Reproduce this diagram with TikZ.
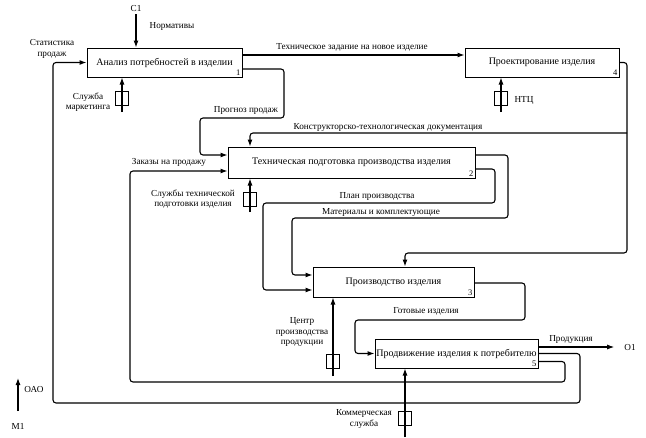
\documentclass[tikz,border=0pt]{standalone}
\usepackage{fontspec}
\setmainfont{Liberation Serif}
\usetikzlibrary{arrows.meta}

\begin{document}
\begin{tikzpicture}
    \tikzset{x=1pt, y=-1pt, >={Latex[length=7pt,width=5pt]}}
    \tikzstyle{func}=[rectangle, draw, line width=1pt, minimum height=29pt, inner sep=0pt, font=\fontsize{10}{11}\selectfont]
    \tikzstyle{num}=[anchor=south east, inner sep=2pt, font=\fontsize{8.5}{9}\selectfont]
    \tikzstyle{tunnel}=[rectangle, draw, line width=0.8pt, minimum width=13pt, minimum height=14pt, inner sep=0pt]
    \tikzstyle{lbl}=[inner sep=0pt, align=center, font=\fontsize{9.2}{10.5}\selectfont]
    \tikzstyle{flow}=[draw, ->, line width=1.1pt, rounded corners=3pt]

    \useasboundingbox (0,0) rectangle (646,437);

    % functions
    \draw (164.5, 62.5)  node[func, minimum width=155pt] (f1) {Анализ потребностей в изделии};
    \draw (542.0, 62.5)  node[func, minimum width=154pt] (f4) {Проектирование изделия};
    \draw (351.5, 162.5) node[func, minimum width=247pt, minimum height=31pt] (f2) {Техническая подготовка производства изделия};
    \draw (393.5, 282.0) node[func, minimum width=161pt, minimum height=30pt] (f3) {Производство изделия};
    \draw (456.5, 353.5) node[func, minimum width=163pt] (f5) {Продвижение изделия к потребителю};

    \draw (f1.south east) node[num] (n1) {1};
    \draw (f4.south east) node[num] (n4) {4};
    \draw (f2.south east) node[num] (n2) {2};
    \draw (f3.south east) node[num] (n3) {3};
    \draw (f5.south east) node[num] (n5) {5};

    % boundary arrows
    \draw (136, 8)   node[lbl] (C1)  {C1};
    \draw (630, 347) node[lbl] (O1)  {O1};
    \draw (18, 426)  node[lbl] (M1)  {M1};
    \coordinate (m0)  at (18, 411);
    \coordinate (oao) at (18, 378);
    \draw (34, 389)  node[lbl] (OAO) {ОАО};

    \draw [flow] ([yshift=-3pt]C1.south) -- (C1 |- f1.north);
    \draw [flow] (m0) -- (oao);
    \draw [flow] ([yshift=6.5pt]f5.east) -- ([xshift=-10pt]O1.west);

    % mechanisms
    \draw (122, 98)  node[tunnel] (t1) {};
    \draw (501, 98)  node[tunnel] (t4) {};
    \draw (250, 199) node[tunnel] (t2) {};
    \draw (333, 361) node[tunnel] (t3) {};
    \draw (405, 418) node[tunnel] (t5) {};
    \coordinate (m1) at (122, 112);
    \coordinate (m4) at (501, 112);
    \coordinate (m2) at (250, 212);
    \coordinate (m3) at (333, 376);
    \coordinate (m5) at (405, 437);
    \draw [flow] (m1) -- (m1 |- f1.south);
    \draw [flow] (m4) -- (m4 |- f4.south);
    \draw [flow] (m2) -- (m2 |- f2.south);
    \draw [flow] (m3) -- (m3 |- f3.south);
    \draw [flow] (m5) -- (m5 |- f5.south);

    % inner arrows
    \coordinate (ktd) at (627, 133);
    \draw [flow] ([yshift=7.5pt]f1.east) -- ([yshift=7.5pt]f4.west);
    \draw [flow] ([yshift=-6.5pt]f1.east) -| (284, 118) -| (200, 140) |- ([yshift=7.5pt]f2.west);
    \draw [flow] (f4.east) -| (627, 253) -| ([xshift=11.5pt]f3.north);
    \draw [flow] (ktd) -| ([xshift=-101.5pt]f2.north);
    \draw [flow] ([yshift=7.5pt]f2.east) -| (508, 218) -| (292, 240) |- ([yshift=7pt]f3.west);
    \draw [flow] ([yshift=-6.5pt]f2.east) -| (495, 203) -| (263, 250) |- ([yshift=-8pt]f3.west);
    \draw [flow] ([yshift=-1pt]f3.east) -| (525, 320) -| (355, 340) |- (f5.west);
    \draw [flow] (f5.east) -| (580, 403) -- (53, 403) |- (f1.west);
    \draw [flow] ([yshift=-8pt]f5.east) -| (565, 382) -- (130, 382) |- ([yshift=-8.5pt]f2.west);

    % labels
    \draw (172, 26)  node[lbl] (lnorm) {Нормативы};
    \draw (52, 49)   node[lbl] (lstat) {Статистика\\продаж};
    \draw (88, 102)  node[lbl] (lmark) {Служба\\маркетинга};
    \draw (246, 110) node[lbl] (lprog) {Прогноз продаж};
    \draw (352, 47)  node[lbl] (ltz)   {Техническое задание на новое изделие};
    \draw (388, 127) node[lbl] (lktd)  {Конструкторско-технологическая документация};
    \draw (524, 100) node[lbl] (lntc)  {НТЦ};
    \draw (169, 162) node[lbl] (lzak)  {Заказы на продажу};
    \draw (193, 199) node[lbl] (ltp)   {Службы технической\\подготовки изделия};
    \draw (377, 196) node[lbl] (lplan) {План производства};
    \draw (381, 212) node[lbl] (lmat)  {Материалы и комплектующие};
    \draw (302, 332) node[lbl] (lcpp)  {Центр\\производства\\продукции};
    \draw (426, 311) node[lbl] (lgot)  {Готовые изделия};
    \draw (571, 339) node[lbl] (lprod) {Продукция};
    \draw (364, 419) node[lbl] (lkom)  {Коммерческая\\служба};
\end{tikzpicture}
\end{document}
